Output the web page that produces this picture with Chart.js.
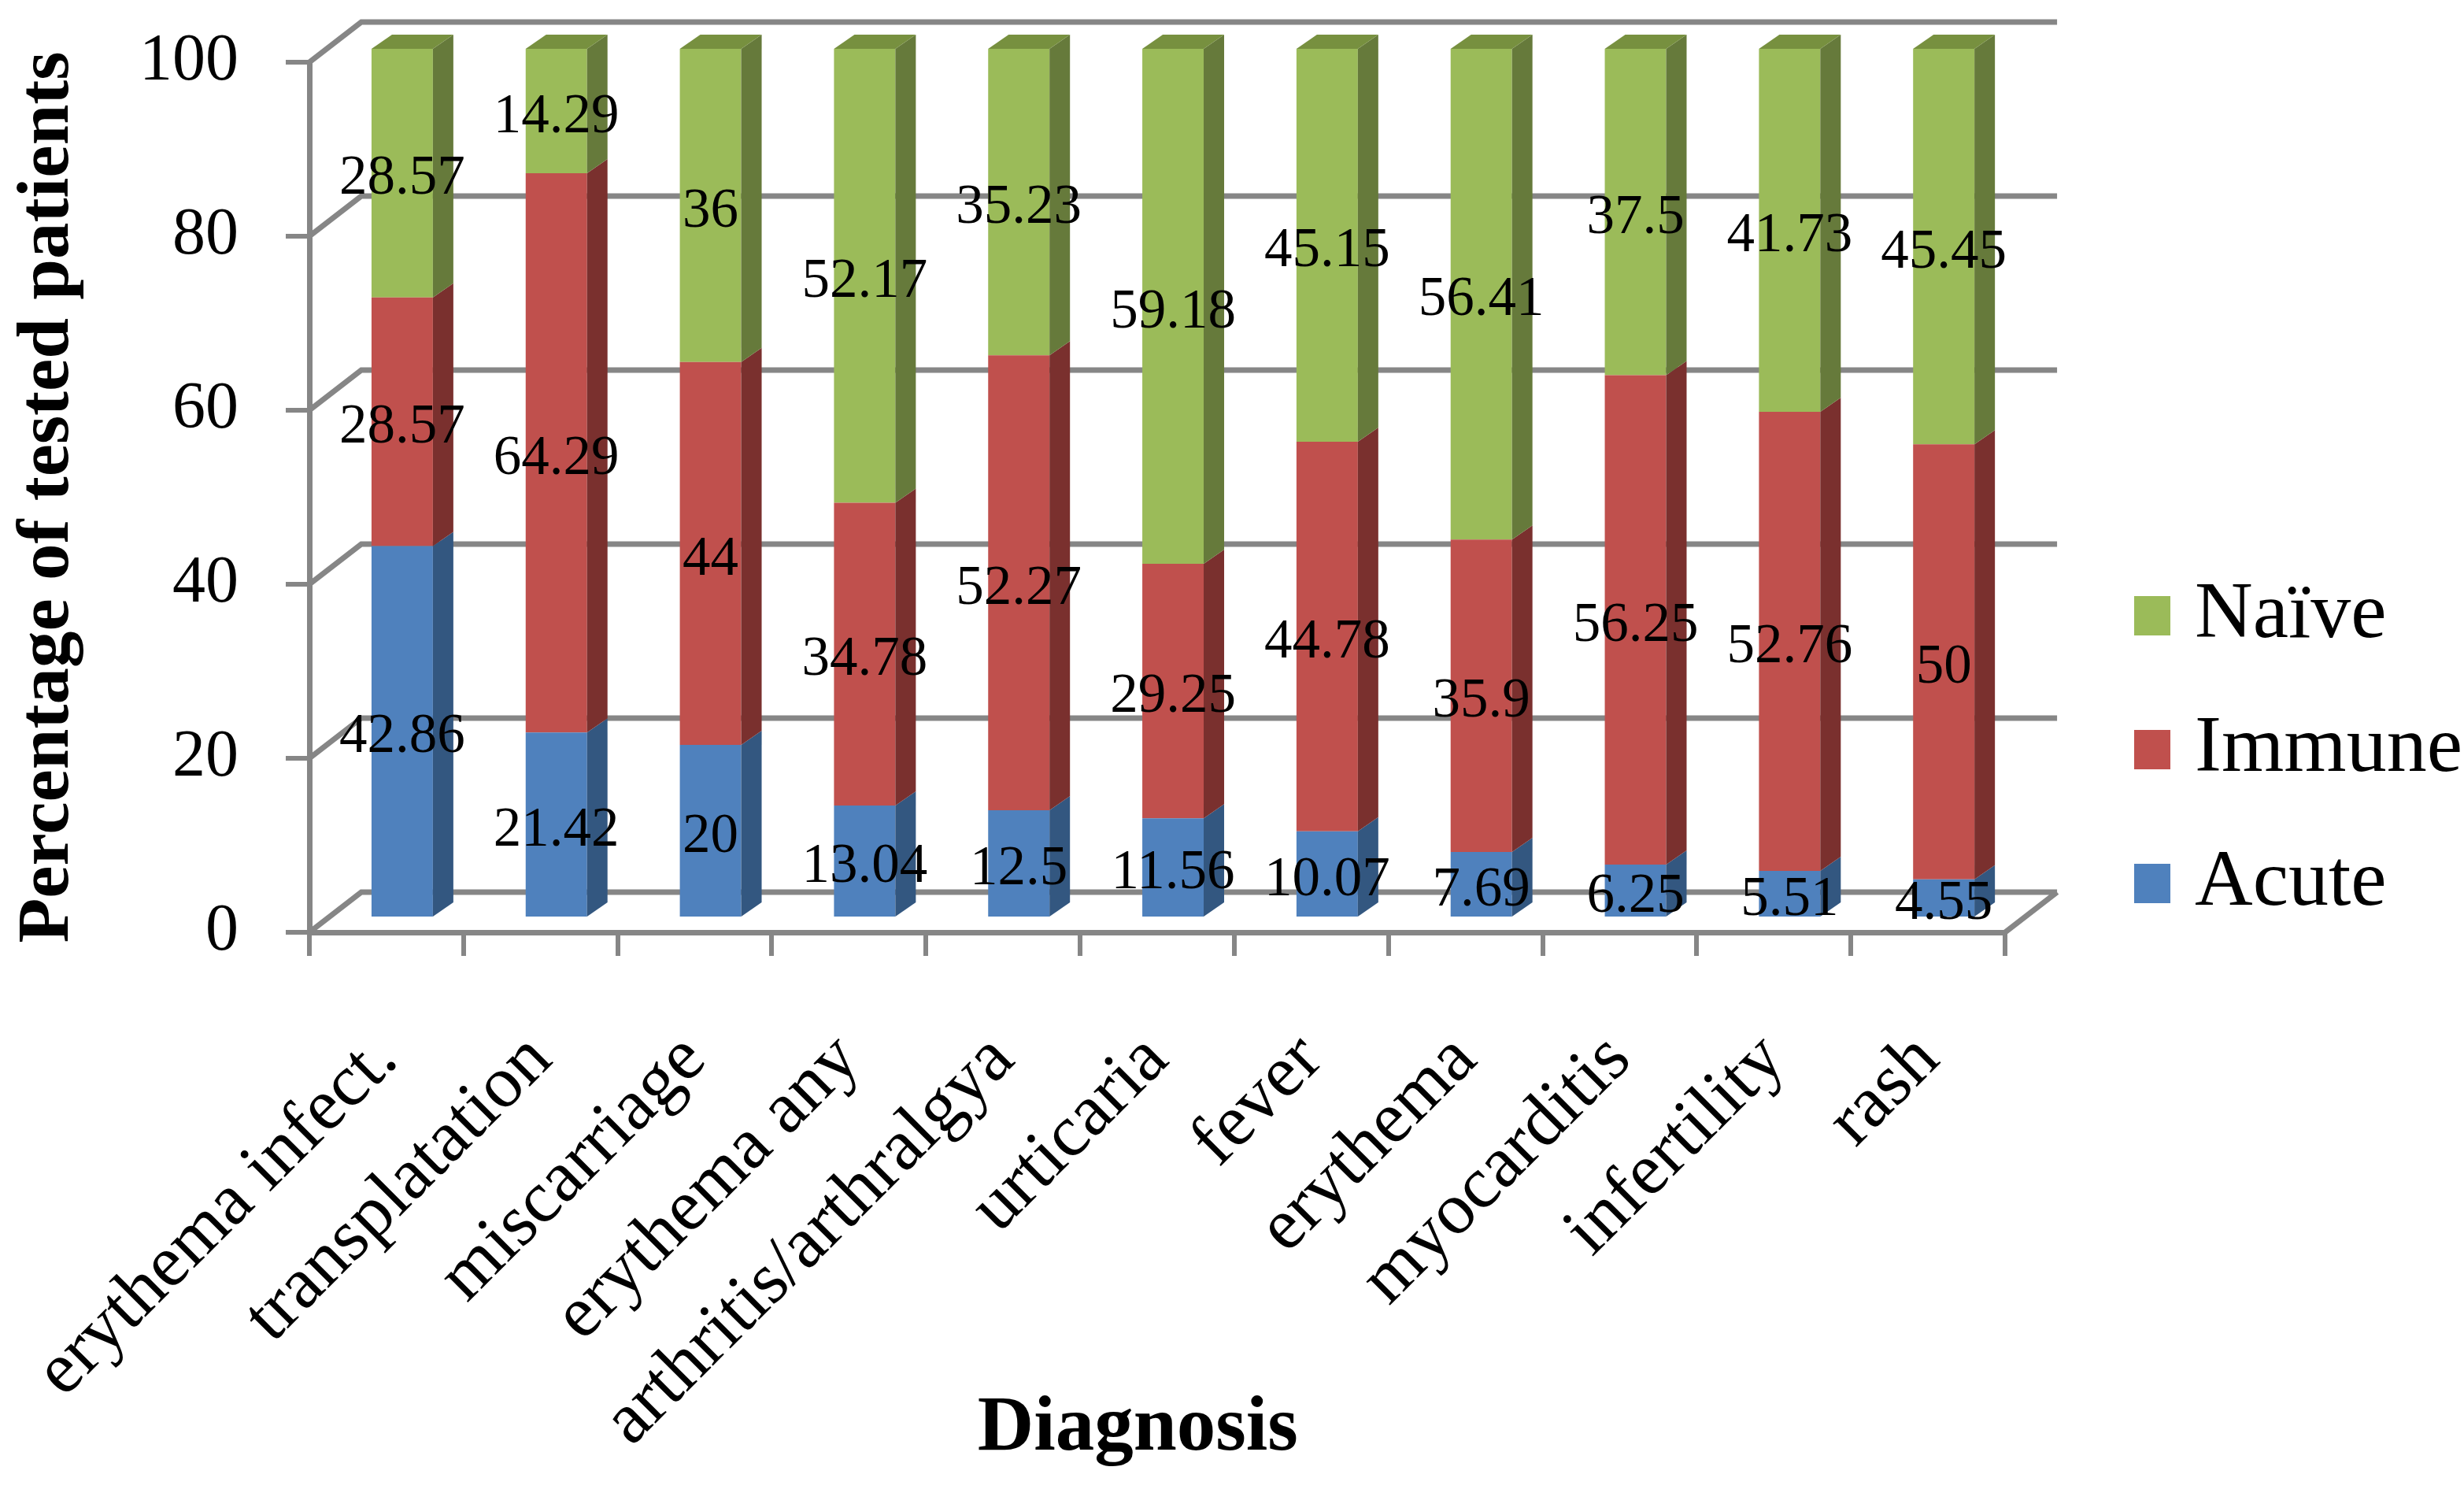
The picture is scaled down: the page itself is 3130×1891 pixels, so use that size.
<!DOCTYPE html>
<html>
<head>
<meta charset="utf-8">
<title>Diagnosis chart</title>
<script src="https://cdn.jsdelivr.net/npm/chart.js@4"></script>
<style>
  html, body { margin: 0; padding: 0; background: #fff; }
  canvas { display: block; }
</style>
</head>
<body>
<canvas id="chart" width="3130" height="1891"></canvas>
<script>
const categories = ['erythema infect.', 'transplatation', 'miscarriage', 'erythema any', 'arthritis/arthralgya',
    'urticaria', 'fever', 'erythema', 'myocarditis', 'infertility', 'rash'];
const acute = [42.86, 21.42, 20, 13.04, 12.5, 11.56, 10.07, 7.69, 6.25, 5.51, 4.55];
const immune = [28.57, 64.29, 44, 34.78, 52.27, 29.25, 44.78, 35.9, 56.25, 52.76, 50];
const naive = [28.57, 14.29, 36, 52.17, 35.23, 59.18, 45.15, 56.41, 37.5, 41.73, 45.45];

const FONT = '"Liberation Serif", serif';
const GRAY = '#868686';

// 3D look: bars sit a bit behind the front plane, walls further back
const BAR_SHIFT = { x: 20, y: -17 };
const BAR_DEPTH = { x: 26, y: -18 };
const WALL = { x: 66, y: -51 };

const sideColors = ['#335780', '#7a302e', '#667a3b'];
const topColors = ['#3f6b9e', '#96403d', '#77903f'];

// swatches get a thick stroke so the text can sit closer to them than the legend allows
const SWATCH_STROKE = 40;

// walls drawn behind the bars
const wallsPlugin = {
    id: 'walls',
    beforeDatasetsDraw(chart) {
        const { ctx, chartArea: a, scales: { y } } = chart;
        ctx.save();
        ctx.strokeStyle = GRAY;
        ctx.lineWidth = 7;
        ctx.beginPath();
        y.ticks.forEach(t => {
            const py = y.getPixelForValue(t.value);
            ctx.moveTo(a.left, py);
            ctx.lineTo(a.left + WALL.x, py + WALL.y);
            ctx.lineTo(a.right + WALL.x, py + WALL.y);
        });
        ctx.moveTo(a.right + WALL.x, a.bottom + WALL.y);
        ctx.lineTo(a.right, a.bottom);
        ctx.stroke();
        ctx.restore();
    }
};

// the bars are moved back, then get their side and top faces
const barsPlugin = {
    id: 'bars3d',
    beforeDatasetsDraw(chart) {
        chart.ctx.save();
        chart.ctx.translate(BAR_SHIFT.x, BAR_SHIFT.y);
    },
    afterDatasetsDraw(chart) {
        const ctx = chart.ctx;
        const metas = chart.getSortedVisibleDatasetMetas();
        metas.forEach((meta, i) => {
            meta.data.forEach(bar => {
                const r = bar.x + bar.width / 2;
                ctx.fillStyle = sideColors[i];
                ctx.beginPath();
                ctx.moveTo(r, bar.y);
                ctx.lineTo(r + BAR_DEPTH.x, bar.y + BAR_DEPTH.y);
                ctx.lineTo(r + BAR_DEPTH.x, bar.base + BAR_DEPTH.y);
                ctx.lineTo(r, bar.base);
                ctx.closePath();
                ctx.fill();
                if (i === metas.length - 1) {
                    const l = bar.x - bar.width / 2;
                    ctx.fillStyle = topColors[i];
                    ctx.beginPath();
                    ctx.moveTo(l, bar.y);
                    ctx.lineTo(l + BAR_DEPTH.x, bar.y + BAR_DEPTH.y);
                    ctx.lineTo(r + BAR_DEPTH.x, bar.y + BAR_DEPTH.y);
                    ctx.lineTo(r, bar.y);
                    ctx.closePath();
                    ctx.fill();
                }
            });
        });
        // value labels on top of everything
        ctx.fillStyle = '#000';
        ctx.font = '71px ' + FONT;
        ctx.textAlign = 'center';
        ctx.textBaseline = 'middle';
        metas.forEach(meta => {
            meta.data.forEach((bar, j) => {
                const value = chart.data.datasets[meta.index].data[j];
                ctx.fillText(String(value), bar.x, (bar.y + bar.base) / 2 + 8);
            });
        });
        ctx.restore();
    }
};

// legend sits away from the plot, so it is placed after layout
const legendPlacePlugin = {
    id: 'legendPlace',
    afterLayout(chart) {
        const legend = chart.legend;
        legend.left = 2711 + SWATCH_STROKE / 2 - legend.options.labels.padding;
        legend.right = chart.width;
        legend.width = legend.right - legend.left;
        legend.top -= 25;
        legend.bottom -= 25;
        legend.adjustHitBoxes();
    }
};

new Chart(document.getElementById('chart'), {
    type: 'bar',
    data: {
        labels: categories,
        datasets: [
            { label: 'Acute', data: acute, backgroundColor: '#4f81bd' },
            { label: 'Immune', data: immune, backgroundColor: '#c0504d' },
            { label: 'Naïve', data: naive, backgroundColor: '#9bbb59' }
        ]
    },
    plugins: [wallsPlugin, barsPlugin, legendPlacePlugin],
    options: {
        responsive: false,
        animation: false,
        devicePixelRatio: 1,
        barPercentage: 0.398,
        categoryPercentage: 1,
        layout: { padding: { top: 79, left: 0, right: 108, bottom: 16 } },
        plugins: {
            tooltip: { enabled: false },
            legend: {
                position: 'right',
                reverse: true,
                labels: {
                    boxWidth: 6,
                    boxHeight: 10,
                    padding: 68,
                    color: '#000',
                    font: { family: FONT, size: 102 },
                    generateLabels(chart) {
                        const items = Chart.defaults.plugins.legend.labels.generateLabels(chart);
                        items.forEach(item => {
                            item.strokeStyle = item.fillStyle;
                            item.lineWidth = SWATCH_STROKE;
                        });
                        return items;
                    }
                }
            }
        },
        scales: {
            x: {
                stacked: true,
                afterFit(s) { s.height = 691; s.paddingLeft = 0; s.paddingRight = 0; },
                border: { color: GRAY, width: 7 },
                grid: { drawOnChartArea: false, color: GRAY, lineWidth: 6, tickLength: 30, tickColor: GRAY },
                ticks: {
                    autoSkip: false,
                    maxRotation: 45,
                    minRotation: 45,
                    color: '#000',
                    padding: 78,
                    font: { family: FONT, size: 93 }
                },
                title: {
                    display: true,
                    text: 'Diagnosis  ',
                    color: '#000',
                    font: { family: FONT, size: 99, weight: 'bold' },
                    padding: { top: 0, bottom: 0 }
                }
            },
            y: {
                stacked: true,
                min: 0,
                max: 100,
                afterFit(s) { s.width = 393; s.paddingTop = 0; s.paddingBottom = 0; },
                border: { color: GRAY, width: 7 },
                grid: { drawOnChartArea: false, color: GRAY, lineWidth: 6, tickLength: 30, tickColor: GRAY },
                ticks: {
                    stepSize: 20,
                    color: '#000',
                    padding: 60,
                    font: { family: FONT, size: 84 }
                },
                title: {
                    display: true,
                    text: 'Percentage of tested patients',
                    color: '#000',
                    font: { family: FONT, size: 93, weight: 'bold' },
                    padding: { top: 6, bottom: 0 }
                }
            }
        }
    }
});
</script>
</body>
</html>
